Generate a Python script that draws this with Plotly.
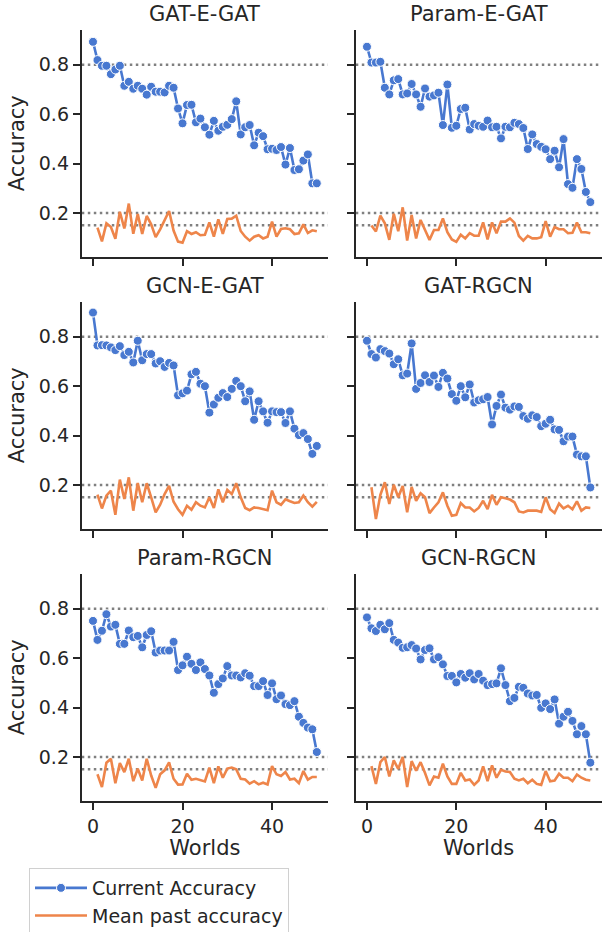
import plotly.graph_objects as go

worlds = list(range(51))
past_worlds = list(range(1, 51))

titles = ["GAT-E-GAT", "Param-E-GAT", "GCN-E-GAT", "GAT-RGCN", "Param-RGCN", "GCN-RGCN"]

cur_gat_e_gat = [0.893, 0.819, 0.796, 0.796, 0.762, 0.781, 0.796, 0.715, 0.731, 0.703,
                 0.715, 0.703, 0.679, 0.711, 0.691, 0.691, 0.688, 0.715, 0.707, 0.623,
                 0.563, 0.637, 0.638, 0.567, 0.582, 0.547, 0.517, 0.573, 0.533, 0.549,
                 0.557, 0.580, 0.652, 0.518, 0.547, 0.556, 0.474, 0.525, 0.511, 0.458,
                 0.460, 0.455, 0.467, 0.396, 0.463, 0.374, 0.377, 0.412, 0.437, 0.320, 0.320]
past_gat_e_gat = [0.141, 0.085, 0.158, 0.143, 0.096, 0.205, 0.137, 0.238, 0.116, 0.196,
                  0.115, 0.188, 0.154, 0.102, 0.134, 0.174, 0.208, 0.129, 0.084, 0.080,
                  0.126, 0.115, 0.122, 0.110, 0.112, 0.162, 0.104, 0.174, 0.115, 0.176,
                  0.177, 0.189, 0.127, 0.104, 0.088, 0.104, 0.110, 0.097, 0.104, 0.165,
                  0.104, 0.135, 0.138, 0.134, 0.115, 0.118, 0.154, 0.119, 0.130, 0.126]

cur_param_e_gat = [0.873, 0.809, 0.809, 0.812, 0.707, 0.680, 0.737, 0.742, 0.680, 0.684,
                   0.722, 0.680, 0.630, 0.704, 0.671, 0.676, 0.687, 0.556, 0.720, 0.545,
                   0.553, 0.621, 0.626, 0.538, 0.560, 0.553, 0.549, 0.574, 0.547, 0.549,
                   0.502, 0.549, 0.547, 0.565, 0.560, 0.544, 0.459, 0.518, 0.479, 0.468,
                   0.458, 0.418, 0.452, 0.385, 0.499, 0.317, 0.302, 0.418, 0.378, 0.285, 0.244]
past_param_e_gat = [0.149, 0.125, 0.189, 0.158, 0.091, 0.197, 0.126, 0.223, 0.088, 0.192,
                    0.097, 0.172, 0.131, 0.091, 0.131, 0.131, 0.178, 0.122, 0.093, 0.083,
                    0.112, 0.097, 0.118, 0.108, 0.108, 0.162, 0.093, 0.162, 0.118, 0.165,
                    0.165, 0.178, 0.161, 0.107, 0.088, 0.107, 0.097, 0.097, 0.102, 0.167,
                    0.104, 0.143, 0.134, 0.134, 0.118, 0.120, 0.161, 0.122, 0.122, 0.118]

cur_gcn_e_gat = [0.898, 0.765, 0.766, 0.765, 0.757, 0.746, 0.762, 0.726, 0.739, 0.696,
                 0.784, 0.705, 0.730, 0.730, 0.692, 0.701, 0.678, 0.694, 0.684, 0.563,
                 0.571, 0.582, 0.648, 0.658, 0.610, 0.600, 0.493, 0.526, 0.553, 0.572,
                 0.556, 0.589, 0.621, 0.600, 0.539, 0.579, 0.464, 0.539, 0.498, 0.452,
                 0.498, 0.495, 0.495, 0.451, 0.498, 0.428, 0.402, 0.410, 0.386, 0.326, 0.358]
past_gcn_e_gat = [0.161, 0.105, 0.157, 0.177, 0.079, 0.222, 0.143, 0.231, 0.096, 0.208,
                  0.130, 0.207, 0.150, 0.089, 0.120, 0.163, 0.196, 0.132, 0.102, 0.079,
                  0.116, 0.100, 0.130, 0.116, 0.109, 0.150, 0.107, 0.182, 0.130, 0.180,
                  0.163, 0.207, 0.150, 0.107, 0.098, 0.109, 0.107, 0.102, 0.098, 0.177,
                  0.130, 0.120, 0.142, 0.134, 0.127, 0.130, 0.157, 0.130, 0.112, 0.132]

cur_gat_rgcn = [0.784, 0.730, 0.716, 0.750, 0.742, 0.732, 0.689, 0.709, 0.644, 0.651,
                0.773, 0.589, 0.613, 0.644, 0.617, 0.643, 0.597, 0.654, 0.631, 0.568,
                0.541, 0.600, 0.555, 0.607, 0.534, 0.543, 0.547, 0.556, 0.445, 0.520,
                0.566, 0.513, 0.505, 0.518, 0.516, 0.479, 0.468, 0.482, 0.475, 0.438,
                0.448, 0.464, 0.425, 0.423, 0.377, 0.396, 0.396, 0.323, 0.316, 0.316, 0.190]
past_gat_rgcn = [0.191, 0.062, 0.160, 0.211, 0.123, 0.201, 0.150, 0.196, 0.089, 0.192,
                 0.136, 0.166, 0.150, 0.086, 0.109, 0.130, 0.170, 0.116, 0.075, 0.079,
                 0.127, 0.109, 0.109, 0.093, 0.107, 0.136, 0.102, 0.160, 0.120, 0.150,
                 0.146, 0.141, 0.130, 0.093, 0.089, 0.096, 0.096, 0.096, 0.091, 0.150,
                 0.102, 0.087, 0.125, 0.105, 0.116, 0.102, 0.134, 0.096, 0.109, 0.107]

cur_param_rgcn = [0.751, 0.674, 0.711, 0.778, 0.728, 0.735, 0.658, 0.658, 0.712, 0.685,
                  0.690, 0.644, 0.694, 0.709, 0.623, 0.631, 0.631, 0.631, 0.666, 0.552,
                  0.571, 0.606, 0.577, 0.552, 0.583, 0.556, 0.530, 0.460, 0.495, 0.518,
                  0.568, 0.530, 0.530, 0.522, 0.539, 0.529, 0.487, 0.487, 0.507, 0.451,
                  0.498, 0.434, 0.449, 0.414, 0.410, 0.426, 0.363, 0.338, 0.319, 0.312, 0.220]
past_param_rgcn = [0.130, 0.078, 0.177, 0.193, 0.094, 0.175, 0.139, 0.193, 0.102, 0.153,
                   0.105, 0.193, 0.125, 0.075, 0.130, 0.146, 0.178, 0.112, 0.088, 0.089,
                   0.132, 0.108, 0.112, 0.108, 0.101, 0.157, 0.094, 0.162, 0.116, 0.153,
                   0.157, 0.150, 0.112, 0.109, 0.092, 0.102, 0.089, 0.096, 0.089, 0.163,
                   0.130, 0.123, 0.139, 0.109, 0.112, 0.094, 0.143, 0.108, 0.119, 0.119]

cur_gcn_rgcn = [0.765, 0.721, 0.710, 0.735, 0.717, 0.742, 0.674, 0.663, 0.642, 0.644,
                0.653, 0.639, 0.595, 0.633, 0.640, 0.595, 0.604, 0.575, 0.528, 0.528,
                0.502, 0.536, 0.521, 0.539, 0.514, 0.536, 0.509, 0.491, 0.495, 0.498,
                0.559, 0.491, 0.426, 0.439, 0.484, 0.480, 0.457, 0.449, 0.451, 0.399,
                0.417, 0.394, 0.433, 0.335, 0.363, 0.383, 0.346, 0.292, 0.325, 0.292, 0.177]
past_gcn_rgcn = [0.163, 0.091, 0.179, 0.200, 0.121, 0.186, 0.152, 0.200, 0.078, 0.183,
                 0.145, 0.179, 0.135, 0.085, 0.121, 0.116, 0.173, 0.121, 0.091, 0.091,
                 0.136, 0.105, 0.109, 0.087, 0.105, 0.162, 0.102, 0.166, 0.116, 0.148,
                 0.141, 0.139, 0.112, 0.105, 0.112, 0.094, 0.108, 0.091, 0.087, 0.143,
                 0.102, 0.105, 0.132, 0.116, 0.116, 0.102, 0.129, 0.116, 0.108, 0.105]

current = [cur_gat_e_gat, cur_param_e_gat, cur_gcn_e_gat, cur_gat_rgcn, cur_param_rgcn, cur_gcn_rgcn]
past = [past_gat_e_gat, past_param_e_gat, past_gcn_e_gat, past_gat_rgcn, past_param_rgcn, past_gcn_rgcn]

ref_lines = [0.8, 0.2, 0.15]
x_ticks = [0, 20, 40]
y_ticks = [0.2, 0.4, 0.6, 0.8]
y_ticktext = ["0.2", "0.4", "0.6", "0.8"]

W, H = 602, 932
BLUE = "#4878d0"
ORANGE = "#ee854a"
INK = "#262626"
FONT = "DejaVu Sans"

col_px = [(81.8, 328.0), (355.8, 601.5)]
row_px = [(29.7, 256.7), (301.7, 528.7), (573.7, 800.7)]

fig = go.Figure()
layout = dict(
    width=W, height=H,
    margin=dict(l=0, r=0, t=0, b=0, autoexpand=False),
    paper_bgcolor="white", plot_bgcolor="white",
    font=dict(family=FONT, color=INK, size=19),
    showlegend=True,
    legend=dict(
        x=29 / W, y=1 - 868 / H, xanchor="left", yanchor="top",
        bordercolor="#d0d0d0", borderwidth=1, bgcolor="rgba(255,255,255,0.8)",
        font=dict(size=19, family=FONT, color=INK),
        tracegroupgap=0, itemwidth=52,
    ),
)
shapes = []
annotations = []

for i, title in enumerate(titles):
    r, c = divmod(i, 2)
    n = i + 1
    xa = "x" if n == 1 else f"x{n}"
    ya = "y" if n == 1 else f"y{n}"
    xk = "xaxis" if n == 1 else f"xaxis{n}"
    yk = "yaxis" if n == 1 else f"yaxis{n}"
    x0, x1 = col_px[c]
    t0, t1 = row_px[r]
    axis_common = dict(showline=True, linecolor=INK, linewidth=2, ticks="outside",
                       ticklen=7, tickwidth=2, tickcolor=INK, showgrid=False,
                       zeroline=False, tickfont=dict(size=19, family=FONT, color=INK))
    layout[xk] = dict(domain=[x0 / W, x1 / W], anchor=ya, range=[-2.5, 52.5],
                      tickvals=x_ticks, showticklabels=(r == 2),
                      title=dict(text="Worlds" if r == 2 else "", standoff=4,
                                 font=dict(size=21, family=FONT, color=INK)),
                      **axis_common)
    layout[yk] = dict(domain=[1 - t1 / H, 1 - t0 / H], anchor=xa, range=[0.023, 0.942],
                      tickvals=y_ticks, ticktext=y_ticktext, showticklabels=(c == 0),
                      title=dict(text="Accuracy" if c == 0 else "", standoff=8,
                                 font=dict(size=21, family=FONT, color=INK)),
                      **axis_common)
    for v in ref_lines:
        shapes.append(dict(type="line", xref=f"{xa} domain", yref=ya, x0=0, x1=1, y0=v, y1=v,
                           line=dict(color="#808080", width=2.5, dash="2.5px,3.5px"),
                           layer="below"))
    annotations.append(dict(text=title, xref=f"{xa} domain", yref=f"{ya} domain",
                            x=0.5, y=1, yanchor="middle", xanchor="center", yshift=15.7,
                            showarrow=False, font=dict(size=21, family=FONT, color=INK)))
    fig.add_trace(go.Scatter(
        x=worlds, y=current[i], xaxis=xa, yaxis=ya, mode="lines+markers",
        name="Current Accuracy", legendgroup="cur", showlegend=(i == 0),
        line=dict(color=BLUE, width=2.6),
        marker=dict(color=BLUE, size=9, line=dict(color="white", width=1)),
    ))
    fig.add_trace(go.Scatter(
        x=past_worlds, y=past[i], xaxis=xa, yaxis=ya, mode="lines",
        name="Mean past accuracy", legendgroup="past", showlegend=(i == 0),
        line=dict(color=ORANGE, width=2.6),
    ))

layout["shapes"] = shapes
layout["annotations"] = annotations
fig.update_layout(**layout)
fig.write_html("out.html")
